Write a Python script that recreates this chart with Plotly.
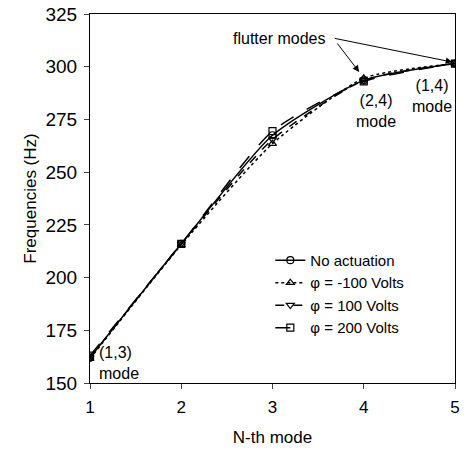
import plotly.graph_objects as go

# Mode index and measured natural frequencies (Hz)
modes = [1, 2, 3, 4, 5]
no_actuation = [162.0, 216.0, 267.5, 293.5, 301.5]
phi_minus100 = [161.5, 215.5, 263.5, 294.5, 301.5]
phi_plus100 = [162.0, 216.0, 265.5, 293.5, 301.5]
phi_plus200 = [163.0, 216.0, 269.5, 293.0, 301.5]

series_names = ["No actuation", "φ = -100 Volts", "φ = 100 Volts", "φ = 200 Volts"]
series_vals = [no_actuation, phi_minus100, phi_plus100, phi_plus200]
dashes = ["solid", "dot", "dash", "longdash"]
symbols = ["circle-open", "triangle-up-open", "triangle-down-open", "square-open"]

FONT = "Liberation Sans, Arial, Helvetica, sans-serif"

fig = go.Figure()
for name, vals, dash, sym in zip(series_names, series_vals, dashes, symbols):
    fig.add_trace(go.Scatter(
        x=modes, y=vals, name=name, mode="lines+markers",
        line=dict(color="black", width=1.5, dash=dash, shape="spline", smoothing=0.6),
        marker=dict(symbol=sym, size=7, color="black", line=dict(width=1.2, color="black")),
    ))

annotations = [
    dict(x=3.076, y=313.6, text="flutter modes", showarrow=False),
    dict(x=4.13, y=279.0, text="(2,4)<br>mode", showarrow=False),
    dict(x=4.75, y=286.1, text="(1,4)<br>mode", showarrow=False),
    dict(x=1.0, y=159.5, text="(1,3)<br>mode", showarrow=False,
         xanchor="left", align="left", xshift=7),
    # arrows from the "flutter modes" label to the two flutter points
    dict(x=3.95, y=297.5, ax=-23, ay=-30, text="", showarrow=True,
         arrowhead=2, arrowsize=1.3, arrowwidth=1, arrowcolor="black"),
    dict(x=4.97, y=302.2, ax=-119, ay=-24, text="", showarrow=True,
         arrowhead=2, arrowsize=1.3, arrowwidth=1, arrowcolor="black"),
]
for a in annotations:
    a.setdefault("xref", "x")
    a.setdefault("yref", "y")
    a["font"] = dict(family=FONT, size=16, color="black")

fig.update_layout(
    width=464, height=457,
    margin=dict(l=90, r=4, t=14, b=74),
    paper_bgcolor="white", plot_bgcolor="white",
    font=dict(family=FONT, size=17, color="black"),
    showlegend=True,
    legend=dict(x=0.494, y=0.377, xanchor="left", yanchor="top",
                bgcolor="rgba(0,0,0,0)", font=dict(family=FONT, size=15),
                tracegroupgap=0, itemwidth=30),
    annotations=annotations,
)
fig.update_xaxes(
    range=[1, 5], tickvals=modes, ticks="outside", ticklen=5,
    ticklabeloverflow="allow", ticklabelstandoff=4,
    tickfont=dict(size=17),
    showline=True, linecolor="black", linewidth=1, mirror=True,
    showgrid=False, zeroline=False,
    title=dict(text="N-th mode", standoff=14, font=dict(size=17)),
)
fig.update_yaxes(
    range=[150, 325], tickvals=[150, 175, 200, 225, 250, 275, 300, 325],
    ticks="outside", ticklen=5, tickfont=dict(size=19), ticklabelstandoff=3,
    showline=True, linecolor="black", linewidth=1, mirror=True,
    showgrid=False, zeroline=False,
    title=dict(text="Frequencies (Hz)", standoff=4, font=dict(size=17)),
)

fig.write_html("out.html")
